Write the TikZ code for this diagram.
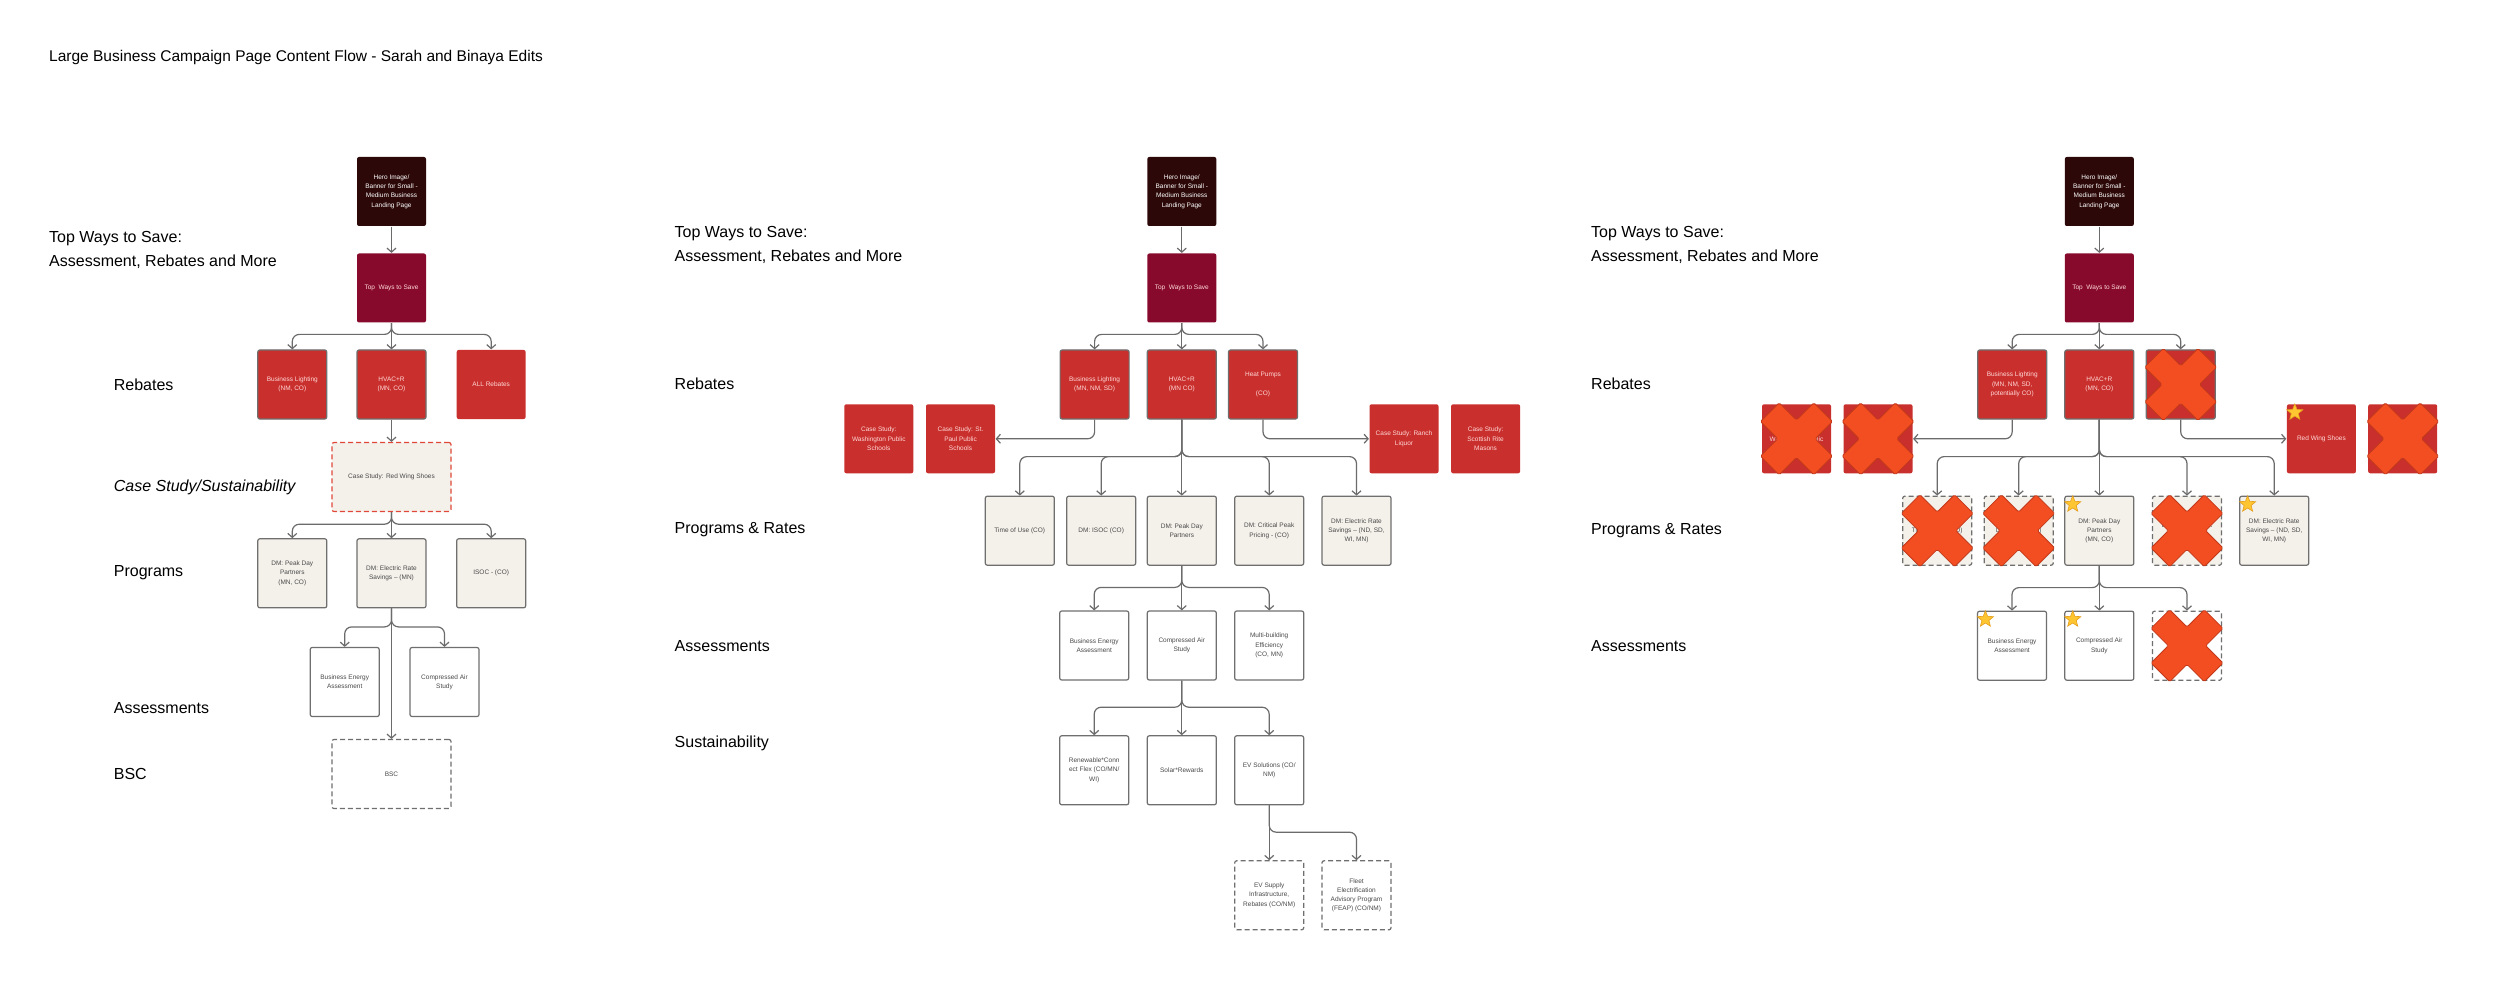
\documentclass[tikz,border=0pt]{standalone}
\usepackage{fontspec}
\setmainfont{Liberation Sans}
\usetikzlibrary{arrows.meta, shapes.geometric}

\definecolor{heroDark}{HTML}{2C0808}
\definecolor{topCrimson}{HTML}{870A2C}
\definecolor{rebRed}{HTML}{C92F2C}
\definecolor{rebText}{HTML}{FFD9D9}
\definecolor{edgeGray}{HTML}{6F6F6F}
\definecolor{progBeige}{HTML}{F4F0EA}
\definecolor{inkGray}{HTML}{4A4A4A}
\definecolor{wireGray}{HTML}{6B6B6B}
\definecolor{nixFill}{HTML}{F24E22}
\definecolor{nixEdge}{HTML}{C2391A}
\definecolor{starGold}{HTML}{FFC632}
\definecolor{starEdge}{HTML}{E59E1B}
\definecolor{caseEdge}{HTML}{E0483A}

\begin{document}
\begin{tikzpicture}[x=1pt, y=-1pt,
  card/.style={rounded corners=2pt, minimum width=69pt, minimum height=69pt, inner sep=1pt,
               align=center, font=\fontsize{6.5}{9.3}\selectfont, line width=1.2pt},
  herobox/.style={card, fill=heroDark, text=white},
  topbox/.style={card, fill=topCrimson, text=rebText},
  rebbox/.style={card, fill=rebRed, draw=edgeGray, text=rebText},
  casebox/.style={card, fill=rebRed, text=rebText},
  progbox/.style={card, fill=progBeige, draw=edgeGray, text=inkGray},
  evalbox/.style={card, fill=white, draw=edgeGray, text=inkGray},
  tbd/.style={dash pattern=on 5pt off 3pt},
  wide/.style={minimum width=119pt},
  rowlabel/.style={anchor=west, inner sep=0pt, align=left, font=\fontsize{16}{23.5}\selectfont},
  wire/.style={draw=wireGray, line width=1.2pt, rounded corners=7pt, -{Straight Barb[length=4pt,width=9pt]}},
  starmark/.style={star, star points=5, star point ratio=2.3, minimum size=17pt, inner sep=0pt,
                   fill=starGold, draw=starEdge, line width=0.6pt},
  nixmark/.pic={\filldraw[fill=nixFill, draw=nixEdge, line width=0.8pt, rounded corners=1.5pt]
    (0,-18.7) -- (17.3,-36) -- (36,-17.3) -- (18.7,0) -- (36,17.3) -- (17.3,36) -- (0,18.7)
    -- (-17.3,36) -- (-36,17.3) -- (-18.7,0) -- (-36,-17.3) -- (-17.3,-36) -- cycle;}
]
  \fill[white] (0,0) rectangle (2500,981);
  \useasboundingbox (0,0) rectangle (2500,981);

  \node[rowlabel, font=\fontsize{15.5}{18}\selectfont] (title) at (49,57)
    {Large Business Campaign Page Content Flow - Sarah and Binaya Edits};

  % ---------- first flow ----------
  \node[rowlabel] (ways1) at (49,250) {Top Ways to Save:\\Assessment, Rebates and More};
  \node[rowlabel] (reblab1) at (113.7,385) {Rebates};
  \node[rowlabel, font=\fontsize{16}{20}\selectfont\itshape] (caselab1) at (113.7,487) {Case Study/Sustainability};
  \node[rowlabel] (proglab1) at (113.7,573) {Programs};
  \node[rowlabel] (evallab1) at (113.7,708) {Assessments};
  \node[rowlabel] (bsclab1) at (113.7,774) {BSC};

  \node[herobox] (hero1) at (391.5,191.5) {Hero Image/\\Banner for Small -\\Medium Business\\Landing Page};
  \node[topbox] (top1) at (391.5,288) {Top~ Ways to Save};
  \node[rebbox] (light1) at (292.3,384.5) {Business Lighting\\(NM, CO)};
  \node[rebbox] (hvac1) at (391.5,384.5) {HVAC+R\\(MN, CO)};
  \node[casebox] (allreb1) at (491.2,384.5) {ALL Rebates};
  \node[progbox, wide, tbd, draw=caseEdge] (redwing1) at (391.5,477) {Case Study: Red Wing Shoes};
  \node[progbox] (peak1) at (292.3,573.3) {DM: Peak Day\\Partners\\(MN, CO)};
  \node[progbox] (elec1) at (391.5,573.3) {DM: Electric Rate\\Savings -- (MN)};
  \node[progbox] (isoc1) at (491.2,573.3) {ISOC - (CO)};
  \node[evalbox] (bea1) at (344.7,682) {Business Energy\\Assessment};
  \node[evalbox] (air1) at (444.5,682) {Compressed Air\\Study};
  \node[evalbox, wide, tbd] (bsc1) at (391.5,774) {BSC};

  \draw[wire] (hero1) -- (top1);
  \draw[wire] (top1) -- (hvac1);
  \foreach \n in {light1,allreb1}
    \draw[wire] (top1.south) |- ([yshift=15pt]\n.north) -- (\n.north);
  \draw[wire] (hvac1) -- (redwing1);
  \draw[wire] (redwing1) -- (elec1);
  \foreach \n in {peak1,isoc1}
    \draw[wire] (redwing1.south) |- ([yshift=14pt]\n.north) -- (\n.north);
  \draw[wire] (elec1) -- (bsc1);
  \foreach \n in {bea1,air1}
    \draw[wire] (elec1.south) |- ([yshift=20pt]\n.north) -- (\n.north);

  % ---------- second flow ----------
  \node[rowlabel] (ways2) at (674.5,245) {Top Ways to Save:\\Assessment, Rebates and More};
  \node[rowlabel] (reblab2) at (674.5,384) {Rebates};
  \node[rowlabel] (proglab2) at (674.5,530) {Programs \& Rates};
  \node[rowlabel] (evallab2) at (674.5,646) {Assessments};
  \node[rowlabel] (sustlab2) at (674.5,743) {Sustainability};

  \node[herobox] (hero2) at (1181.8,191.5) {Hero Image/\\Banner for Small -\\Medium Business\\Landing Page};
  \node[topbox] (top2) at (1181.8,288) {Top~ Ways to Save};
  \node[rebbox] (light2) at (1094.6,384.5) {Business Lighting\\(MN, NM, SD)};
  \node[rebbox] (hvac2) at (1181.8,384.5) {HVAC+R\\(MN CO)};
  \node[rebbox] (heat2) at (1263,384.5) {Heat Pumps\\[9pt](CO)};
  \node[casebox] (wash2) at (878.8,438.8) {Case Study:\\Washington Public\\Schools};
  \node[casebox] (paul2) at (960.5,438.8) {Case Study: St.\\Paul Public\\Schools};
  \node[casebox] (ranch2) at (1404,438.8) {Case Study: Ranch\\Liquor};
  \node[casebox] (masons2) at (1485.6,438.8) {Case Study:\\Scottish Rite\\Masons};
  \node[progbox] (tou2) at (1019.8,530.7) {Time of Use (CO)};
  \node[progbox] (isoc2) at (1101.2,530.7) {DM: ISOC (CO)};
  \node[progbox] (peak2) at (1181.8,530.7) {DM: Peak Day\\Partners};
  \node[progbox] (crit2) at (1269.2,530.7) {DM: Critical Peak\\Pricing - (CO)};
  \node[progbox] (elec2) at (1356.5,530.7) {DM: Electric Rate\\Savings -- (ND, SD,\\WI, MN)};
  \node[evalbox] (bea2) at (1094.2,645.5) {Business Energy\\Assessment};
  \node[evalbox] (air2) at (1181.8,645.5) {Compressed Air\\Study};
  \node[evalbox] (multi2) at (1269.2,645.5) {Multi-building\\Efficiency\\(CO, MN)};
  \node[evalbox] (renew2) at (1094.2,770.3) {Renewable*Conn\\ect Flex (CO/MN/\\WI)};
  \node[evalbox] (solar2) at (1181.8,770.3) {Solar*Rewards};
  \node[evalbox] (ev2) at (1269.2,770.3) {EV Solutions (CO/\\NM)};
  \node[evalbox, tbd] (evsup2) at (1269.2,895.3) {EV Supply\\Infrastructure,\\Rebates (CO/NM)};
  \node[evalbox, tbd] (feap2) at (1356.5,895.3) {Fleet\\Electrification\\Advisory Program\\(FEAP) (CO/NM)};

  \draw[wire] (hero2) -- (top2);
  \draw[wire] (top2) -- (hvac2);
  \foreach \n in {light2,heat2}
    \draw[wire] (top2.south) |- ([yshift=15pt]\n.north) -- (\n.north);
  \draw[wire] (light2.south) |- (paul2.east);
  \draw[wire] (heat2.south) |- (ranch2.west);
  \draw[wire] (hvac2) -- (peak2);
  \foreach \n in {tou2,isoc2,crit2,elec2}
    \draw[wire] (hvac2.south) |- ([yshift=39pt]\n.north) -- (\n.north);
  \draw[wire] (peak2) -- (air2);
  \foreach \n in {bea2,multi2}
    \draw[wire] (peak2.south) |- ([yshift=23pt]\n.north) -- (\n.north);
  \draw[wire] (air2) -- (solar2);
  \foreach \n in {renew2,ev2}
    \draw[wire] (air2.south) |- ([yshift=28pt]\n.north) -- (\n.north);
  \draw[wire] (ev2) -- (evsup2);
  \draw[wire] (ev2.south) |- ([yshift=28pt]feap2.north) -- (feap2.north);

  % ---------- third flow ----------
  \node[rowlabel] (ways3) at (1591,245) {Top Ways to Save:\\Assessment, Rebates and More};
  \node[rowlabel] (reblab3) at (1591,384) {Rebates};
  \node[rowlabel] (proglab3) at (1591,531) {Programs \& Rates};
  \node[rowlabel] (evallab3) at (1591,646) {Assessments};

  \node[herobox] (hero3) at (2099.3,191.5) {Hero Image/\\Banner for Small -\\Medium Business\\Landing Page};
  \node[topbox] (top3) at (2099.3,288) {Top~ Ways to Save};
  \node[rebbox] (light3) at (2012.2,384.5) {Business Lighting\\(MN, NM, SD,\\potentially CO)};
  \node[rebbox] (hvac3) at (2099.3,384.5) {HVAC+R\\(MN, CO)};
  \node[rebbox] (heat3) at (2180.7,384.5) {Heat Pumps\\[9pt](CO)};
  \node[casebox] (wash3) at (1796.5,438.8) {Case Study:\\Washington Public\\Schools};
  \node[casebox] (paul3) at (1878,438.8) {Case Study: St.\\Paul Public\\Schools};
  \node[casebox] (redwing3) at (2321.4,438.8) {Red Wing Shoes};
  \node[casebox] (masons3) at (2402.7,438.8) {Case Study:\\Scottish Rite\\Masons};
  \node[progbox, tbd] (tou3) at (1937.2,530.7) {Time of Use (CO)};
  \node[progbox, tbd] (isoc3) at (2018.7,530.7) {DM: ISOC (CO)};
  \node[progbox] (peak3) at (2099.3,530.7) {DM: Peak Day\\Partners\\(MN, CO)};
  \node[progbox, tbd] (crit3) at (2187,530.7) {DM: Critical Peak\\Pricing - (CO)};
  \node[progbox] (elec3) at (2274.2,530.7) {DM: Electric Rate\\Savings -- (ND, SD,\\WI, MN)};
  \node[evalbox] (bea3) at (2012,645.7) {Business Energy\\Assessment};
  \node[evalbox] (air3) at (2099.3,645.7) {Compressed Air\\Study};
  \node[evalbox, tbd] (multi3) at (2187,645.7) {Multi-building\\Efficiency\\(CO, MN)};

  \draw[wire] (hero3) -- (top3);
  \draw[wire] (top3) -- (hvac3);
  \foreach \n in {light3,heat3}
    \draw[wire] (top3.south) |- ([yshift=15pt]\n.north) -- (\n.north);
  \draw[wire] (light3.south) |- (paul3.east);
  \draw[wire] (heat3.south) |- (redwing3.west);
  \draw[wire] (hvac3) -- (peak3);
  \foreach \n in {tou3,isoc3,crit3,elec3}
    \draw[wire] (hvac3.south) |- ([yshift=39pt]\n.north) -- (\n.north);
  \draw[wire] (peak3) -- (air3);
  \foreach \n in {bea3,multi3}
    \draw[wire] (peak3.south) |- ([yshift=23pt]\n.north) -- (\n.north);

  % struck-out items and keepers
  \foreach \n in {heat3,wash3,paul3,masons3,tou3,isoc3,crit3,multi3}
    \pic at (\n) {nixmark};
  \node[starmark] (star1) at ([xshift=8.5pt,yshift=-8.7pt]redwing3.north west) {};
  \node[starmark] (star2) at ([xshift=8.5pt,yshift=-8.7pt]peak3.north west) {};
  \node[starmark] (star3) at ([xshift=8.5pt,yshift=-8.7pt]elec3.north west) {};
  \node[starmark] (star4) at ([xshift=8.5pt,yshift=-8.7pt]bea3.north west) {};
  \node[starmark] (star5) at ([xshift=8.5pt,yshift=-8.7pt]air3.north west) {};
\end{tikzpicture}
\end{document}
